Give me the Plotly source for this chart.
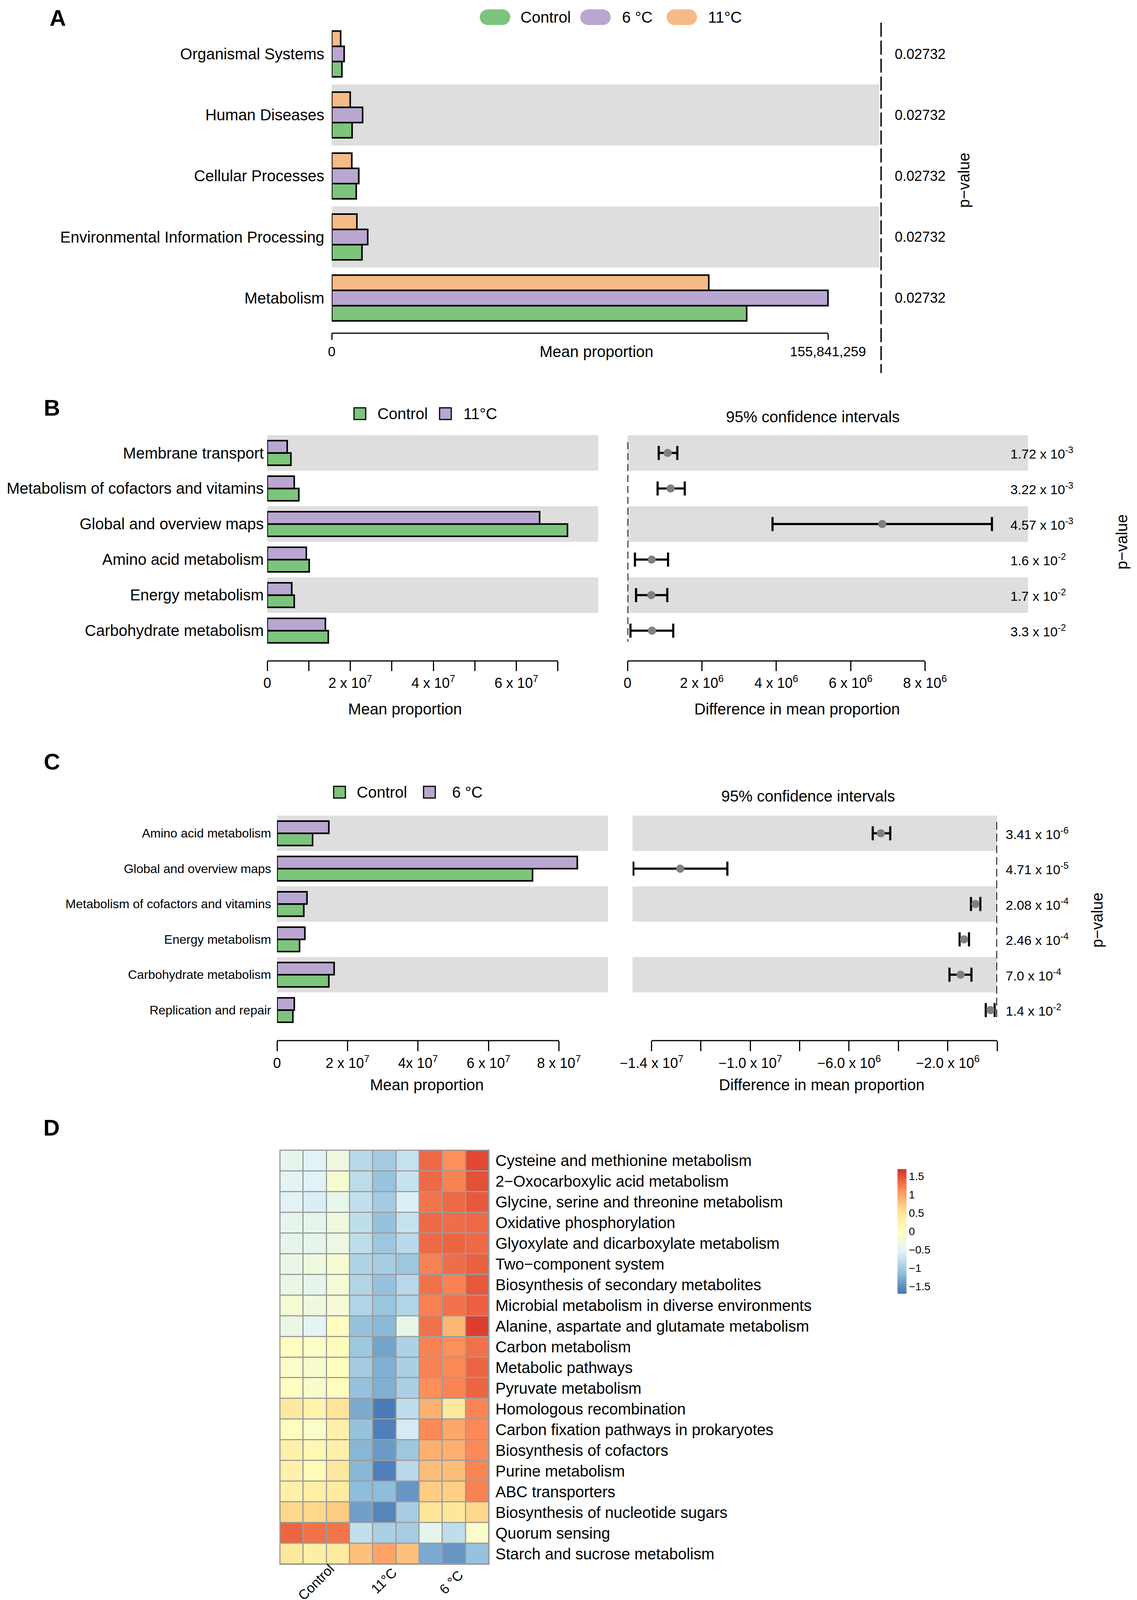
import plotly.graph_objects as go

W, H = 2910, 4142
OFF = 8  # page body margin compensation
FONT = "Liberation Sans, Arial, Helvetica, sans-serif"

GREEN = "#7DC47D"
PURPLE = "#B9A7D1"
ORANGE = "#F5BB86"
BAND = "#DEDEDE"
DOT = "#808080"

# ---------------- Panel A data ----------------
a_categories = ["Organismal Systems", "Human Diseases", "Cellular Processes",
                "Environmental Information Processing", "Metabolism"]
a_control = [3.2e6, 6.4e6, 7.7e6, 9.5e6, 130.3e6]
a_6c = [3.9e6, 9.7e6, 8.5e6, 11.3e6, 155841259]
a_11c = [2.8e6, 5.8e6, 6.3e6, 7.9e6, 118.4e6]
a_pvalues = ["0.02732", "0.02732", "0.02732", "0.02732", "0.02732"]
a_tickvals = [0, 155841259]
a_ticktext = ["0", "155,841,259"]
a_band_rows = [1, 3]

# ---------------- Panel B data ----------------
b_categories = ["Membrane transport", "Metabolism of cofactors and vitamins",
                "Global and overview maps", "Amino acid metabolism",
                "Energy metabolism", "Carbohydrate metabolism"]
b_control = [5.7e6, 7.6e6, 72.3e6, 10.1e6, 6.5e6, 14.7e6]
b_11c = [4.8e6, 6.5e6, 65.6e6, 9.4e6, 5.9e6, 14.0e6]
b_diff = [1.08e6, 1.16e6, 6.85e6, 0.65e6, 0.64e6, 0.66e6]
b_ci_low = [0.84e6, 0.81e6, 3.90e6, 0.20e6, 0.23e6, 0.08e6]
b_ci_high = [1.34e6, 1.54e6, 9.80e6, 1.09e6, 1.07e6, 1.23e6]
b_pvalues = ["1.72 x 10<sup>-3</sup>", "3.22 x 10<sup>-3</sup>", "4.57 x 10<sup>-3</sup>",
             "1.6 x 10<sup>-2</sup>", "1.7 x 10<sup>-2</sup>", "3.3 x 10<sup>-2</sup>"]
b_left_tickvals = [0, 1e7, 2e7, 3e7, 4e7, 5e7, 6e7, 7e7]
b_left_ticktext = ["0", "", "2 x 10<sup>7</sup>", "", "4 x 10<sup>7</sup>", "",
                   "6 x 10<sup>7</sup>", ""]
b_right_tickvals = [0, 2e6, 4e6, 6e6, 8e6]
b_right_ticktext = ["0", "2 x 10<sup>6</sup>", "4 x 10<sup>6</sup>",
                    "6 x 10<sup>6</sup>", "8 x 10<sup>6</sup>"]
b_band_rows = [0, 2, 4]

# ---------------- Panel C data ----------------
c_categories = ["Amino acid metabolism", "Global and overview maps",
                "Metabolism of cofactors and vitamins", "Energy metabolism",
                "Carbohydrate metabolism", "Replication and repair"]
c_control = [10.1e6, 72.5e6, 7.6e6, 6.4e6, 14.7e6, 4.5e6]
c_6c = [14.7e6, 85.2e6, 8.5e6, 7.9e6, 16.2e6, 4.9e6]
c_diff = [-4.71e6, -12.84e6, -0.88e6, -1.34e6, -1.48e6, -0.27e6]
c_ci_low = [-5.04e6, -14.74e6, -1.06e6, -1.52e6, -1.93e6, -0.46e6]
c_ci_high = [-4.33e6, -10.93e6, -0.68e6, -1.14e6, -1.04e6, -0.10e6]
c_pvalues = ["3.41 x 10<sup>-6</sup>", "4.71 x 10<sup>-5</sup>", "2.08 x 10<sup>-4</sup>",
             "2.46 x 10<sup>-4</sup>", "7.0 x 10<sup>-4</sup>", "1.4 x 10<sup>-2</sup>"]
c_left_tickvals = [0, 2e7, 4e7, 6e7, 8e7]
c_left_ticktext = ["0", "2 x 10<sup>7</sup>", "4x 10<sup>7</sup>",
                   "6 x 10<sup>7</sup>", "8 x 10<sup>7</sup>"]
c_right_tickvals = [-1.4e7, -1.2e7, -1.0e7, -8e6, -6e6, -4e6, -2e6, 0]
c_right_ticktext = ["\u22121.4 x 10<sup>7</sup>", "", "\u22121.0 x 10<sup>7</sup>", "",
                    "\u22126.0 x 10<sup>6</sup>", "", "\u22122.0 x 10<sup>6</sup>", ""]
c_band_rows = [0, 2, 4]

# ---------------- Panel D data ----------------
d_rows = ["Cysteine and methionine metabolism", "2\u2212Oxocarboxylic acid metabolism",
          "Glycine, serine and threonine metabolism", "Oxidative phosphorylation",
          "Glyoxylate and dicarboxylate metabolism", "Two\u2212component system",
          "Biosynthesis of secondary metabolites", "Microbial metabolism in diverse environments",
          "Alanine, aspartate and glutamate metabolism", "Carbon metabolism",
          "Metabolic pathways", "Pyruvate metabolism", "Homologous recombination",
          "Carbon fixation pathways in prokaryotes", "Biosynthesis of cofactors",
          "Purine metabolism", "ABC transporters", "Biosynthesis of nucleotide sugars",
          "Quorum sensing", "Starch and sucrose metabolism"]
d_samples = ["Control_1", "Control_2", "Control_3", "11C_1", "11C_2", "11C_3",
             "6C_1", "6C_2", "6C_3"]
d_groups = ["Control", "11\u00b0C", "6 \u00b0C"]
d_values = [
    [-0.45, -0.55, -0.32, -0.85, -1.00, -0.75, 1.35, 1.12, 1.55],
    [-0.52, -0.55, -0.15, -0.82, -1.08, -0.75, 1.35, 1.20, 1.50],
    [-0.55, -0.62, -0.42, -0.78, -1.00, -0.60, 1.28, 1.36, 1.45],
    [-0.45, -0.45, -0.30, -0.80, -1.10, -0.75, 1.35, 1.33, 1.35],
    [-0.45, -0.45, -0.35, -0.80, -1.05, -0.85, 1.35, 1.38, 1.35],
    [-0.38, -0.30, -0.18, -0.92, -0.97, -1.05, 1.20, 1.33, 1.40],
    [-0.38, -0.45, -0.20, -0.90, -1.10, -0.85, 1.30, 1.20, 1.45],
    [-0.20, -0.30, -0.22, -0.90, -1.07, -0.90, 1.20, 1.30, 1.40],
    [-0.38, -0.52, 0.02, -1.10, -1.18, -0.42, 1.30, 0.85, 1.62],
    [0.00, -0.08, 0.05, -1.05, -1.35, -0.93, 1.20, 1.12, 1.30],
    [-0.10, -0.15, 0.00, -1.00, -1.25, -0.95, 1.20, 1.15, 1.38],
    [-0.02, -0.12, 0.03, -1.10, -1.25, -0.95, 1.12, 1.18, 1.38],
    [0.40, 0.20, 0.50, -1.30, -1.65, -0.80, 0.90, 0.42, 1.18],
    [0.03, -0.10, 0.25, -1.10, -1.62, -0.65, 1.15, 0.95, 1.15],
    [0.25, 0.15, 0.27, -1.20, -1.42, -1.05, 0.90, 0.90, 1.15],
    [0.25, 0.08, 0.42, -1.20, -1.62, -0.85, 0.80, 0.80, 1.18],
    [0.28, 0.28, 0.35, -1.15, -1.15, -1.45, 0.70, 0.68, 1.20],
    [0.62, 0.62, 0.70, -1.38, -1.58, -0.98, 0.45, 0.43, 0.62],
    [1.38, 1.30, 1.28, -0.78, -0.95, -0.98, -0.45, -0.80, -0.10],
    [0.42, 0.30, 0.37, 0.78, 0.98, 0.78, -1.30, -1.45, -1.10],
]
d_colorbar_ticks = [-1.5, -1, -0.5, 0, 0.5, 1, 1.5]
d_colorbar_text = ["\u22121.5", "\u22121", "\u22120.5", "0", "0.5", "1", "1.5"]
d_colorscale = [[0, "#4575B4"], [1 / 6, "#91BFDB"], [2 / 6, "#E0F3F8"], [3 / 6, "#FFFFBF"],
                [4 / 6, "#FEE090"], [5 / 6, "#FC8D59"], [1, "#D73027"]]


def fx(p):
    return (p - OFF) / W


def fy(p):
    return 1 - (p - OFF) / H


fig = go.Figure()
shapes = []
annotations = []


def rev(cats):
    return list(reversed(cats))


def add_bands(rows, n, xref, yref):
    for r in rows:
        pos = n - 1 - r
        shapes.append(dict(type="rect", xref=xref, yref=yref, x0=0, x1=1,
                           y0=pos - 0.5, y1=pos + 0.5, fillcolor=BAND,
                           line=dict(width=0), layer="below"))


def hbar(x, y, color, width, offset, xa, ya):
    fig.add_trace(go.Bar(x=x, y=y, orientation="h", width=width, offset=offset,
                         marker=dict(color=color, line=dict(color="black", width=4)),
                         xaxis=xa, yaxis=ya, showlegend=False))


def axis_line(xref, yref, x0, x1):
    shapes.append(dict(type="line", xref=xref, yref=yref, x0=x0, x1=x1, y0=0, y1=0,
                       line=dict(color="black", width=3)))


def text(x, y, s, size, xanchor="center", yanchor="middle", xref="paper", yref="paper",
         angle=0, bold=False):
    if bold:
        s = "<b>" + s + "</b>"
    annotations.append(dict(x=x, y=y, xref=xref, yref=yref, text=s, showarrow=False,
                            xanchor=xanchor, yanchor=yanchor, textangle=angle,
                            font=dict(family=FONT, size=size, color="black")))


def ci_trace(diff, low, high, cats, xa, ya):
    fig.add_trace(go.Scatter(
        x=diff, y=cats, mode="markers", xaxis=xa, yaxis=ya, showlegend=False,
        marker=dict(color=DOT, size=21),
        error_x=dict(type="data", symmetric=False,
                     array=[h - d for h, d in zip(high, diff)],
                     arrayminus=[d - l for d, l in zip(diff, low)],
                     color="black", thickness=5.5, width=18)))


# ---------------- Panel A ----------------
nA = len(a_categories)
hbar(a_control, a_categories, GREEN, 0.25, -0.375, "x", "y")
hbar(a_6c, a_categories, PURPLE, 0.25, -0.125, "x", "y")
hbar(a_11c, a_categories, ORANGE, 0.25, 0.125, "x", "y")
add_bands(a_band_rows, nA, "x domain", "y")
axis_line("x", "y domain", 0, a_tickvals[-1])
shapes.append(dict(type="line", xref="paper", yref="paper", x0=fx(2255), x1=fx(2255),
                   y0=fy(58), y1=fy(955), line=dict(color="black", width=3.5, dash="36px,10px")))
for cat, p in zip(a_categories, a_pvalues):
    text(fx(2288), cat, p, 36, xanchor="left", yref="y")
text(fx(2467), fy(462), "p\u2212value", 40, angle=-90)
text(fx(1526), fy(900), "Mean proportion", 40)
text(fx(148), fy(46), "A", 58, bold=True)

# legend A (pills)
pill = ("M -19,-20 L 19,-20 C 30,-20 39,-11 39,0 C 39,11 30,20 19,20 L -19,20 "
        "C -30,20 -39,11 -39,0 C -39,-11 -30,-20 -19,-20 Z")
for cx, col, lbl, tx in [(1267, GREEN, "Control", 1330), (1524, PURPLE, "6 \u00b0C", 1590),
                         (1745, ORANGE, "11\u00b0C", 1810)]:
    shapes.append(dict(type="path", xref="paper", yref="paper", xsizemode="pixel",
                       ysizemode="pixel", xanchor=fx(cx), yanchor=fy(44), path=pill,
                       fillcolor=col, line=dict(width=0)))
    text(fx(tx), fy(44), lbl, 40, xanchor="left")

# ---------------- Panel B ----------------
nB = len(b_categories)
hbar(b_control, b_categories, GREEN, 0.345, -0.345, "x2", "y2")
hbar(b_11c, b_categories, PURPLE, 0.345, 0.0, "x2", "y2")
add_bands(b_band_rows, nB, "x2 domain", "y2")
add_bands(b_band_rows, nB, "x3 domain", "y3")
axis_line("x2", "y2 domain", 0, b_left_tickvals[-1])
axis_line("x3", "y3 domain", 0, b_right_tickvals[-1])
ci_trace(b_diff, b_ci_low, b_ci_high, b_categories, "x3", "y3")
shapes.append(dict(type="line", xref="x3", yref="paper", x0=0, x1=0, y0=fy(1132), y1=fy(1643),
                   line=dict(color="black", width=4, dash="18px,10px")))
for cat, p in zip(b_categories, b_pvalues):
    text(fx(2584), cat, p, 34, xanchor="left", yref="y3")
text(fx(2871), fy(1388), "p\u2212value", 40, angle=-90)
text(fx(2080), fy(1067), "95% confidence intervals", 40)
text(fx(1036), fy(1815), "Mean proportion", 40)
text(fx(2040), fy(1815), "Difference in mean proportion", 40)
text(fx(133), fy(1043), "B", 58, bold=True)
for cx, col, lbl, tx in [(921, GREEN, "Control", 964), (1140, PURPLE, "11\u00b0C", 1184)]:
    shapes.append(dict(type="rect", xref="paper", yref="paper", x0=fx(cx - 15), x1=fx(cx + 15),
                       y0=fy(1059 + 15), y1=fy(1059 - 15), fillcolor=col,
                       line=dict(color="black", width=3)))
    text(fx(tx), fy(1059), lbl, 40, xanchor="left")

# ---------------- Panel C ----------------
nC = len(c_categories)
hbar(c_control, c_categories, GREEN, 0.345, -0.345, "x4", "y4")
hbar(c_6c, c_categories, PURPLE, 0.345, 0.0, "x4", "y4")
add_bands(c_band_rows, nC, "x4 domain", "y4")
add_bands(c_band_rows, nC, "x5 domain", "y5")
axis_line("x4", "y4 domain", 0, c_left_tickvals[-1])
axis_line("x5", "y5 domain", c_right_tickvals[0], c_right_tickvals[-1])
ci_trace(c_diff, c_ci_low, c_ci_high, c_categories, "x5", "y5")
shapes.append(dict(type="line", xref="x5", yref="paper", x0=0, x1=0, y0=fy(2104), y1=fy(2615),
                   line=dict(color="black", width=4, dash="20px,10px")))
for cat, p in zip(c_categories, c_pvalues):
    text(fx(2572), cat, p, 34, xanchor="left", yref="y5")
text(fx(2808), fy(2356), "p\u2212value", 40, angle=-90)
text(fx(2068), fy(2038), "95% confidence intervals", 40)
text(fx(1092), fy(2777), "Mean proportion", 40)
text(fx(2103), fy(2777), "Difference in mean proportion", 40)
text(fx(133), fy(1949), "C", 58, bold=True)
for cx, col, lbl, tx in [(869, GREEN, "Control", 911), (1099, PURPLE, "6 \u00b0C", 1155)]:
    shapes.append(dict(type="rect", xref="paper", yref="paper", x0=fx(cx - 15), x1=fx(cx + 15),
                       y0=fy(2028 + 15), y1=fy(2028 - 15), fillcolor=col,
                       line=dict(color="black", width=3)))
    text(fx(tx), fy(2028), lbl, 40, xanchor="left")

# ---------------- Panel D ----------------
fig.add_trace(go.Heatmap(
    z=d_values, x=d_samples, y=d_rows, colorscale=d_colorscale, zmin=-1.7, zmax=1.7,
    xgap=3, ygap=3, xaxis="x6", yaxis="y6",
    colorbar=dict(x=fx(2287), xanchor="left", y=fy(3152), yanchor="middle",
                  thickness=23, thicknessmode="pixels", len=339, lenmode="pixels",
                  outlinewidth=0, ticks="", tickvals=d_colorbar_ticks,
                  ticktext=d_colorbar_text,
                  tickfont=dict(family=FONT, size=28, color="black"))))
shapes.append(dict(type="rect", xref="paper", yref="paper", x0=fx(715), x1=fx(1253),
                   y0=fy(4006), y1=fy(2943), fillcolor="#9C9C9C", line=dict(width=0),
                   layer="below"))
for (gx, gy), g in zip([(808, 4050), (982, 4046), (1154, 4050)], d_groups):
    text(fx(gx), fy(gy), g, 35, angle=-45)
text(fx(132), fy(2886), "D", 58, bold=True)

tick_font = lambda s: dict(family=FONT, size=s, color="black")
base_x = dict(showgrid=False, zeroline=False, showline=False, ticks="outside",
              tickwidth=3, tickcolor="black")
base_cat = dict(showgrid=False, zeroline=False, showline=False, ticks="", type="category")

fig.update_layout(
    width=W, height=H, margin=dict(l=0, r=0, t=0, b=0), autosize=False,
    paper_bgcolor="white", plot_bgcolor="white", template="none",
    barmode="overlay", showlegend=False,
    font=dict(family=FONT, color="black"),
    # A
    xaxis=dict(base_x, domain=[fx(849), fx(2250)], range=[0, 171.9e6], anchor="y",
               tickvals=a_tickvals, ticktext=a_ticktext, ticklen=16, tickfont=tick_font(35)),
    yaxis=dict(base_cat, domain=[fy(853), fy(60)], anchor="x",
               categoryorder="array", categoryarray=rev(a_categories),
               range=[-0.577, nA - 0.5], tickfont=tick_font(40), ticklabelstandoff=18),
    # B left
    xaxis2=dict(base_x, domain=[fx(684), fx(1531)], range=[0, 7.97e7], anchor="y2",
                tickvals=b_left_tickvals, ticktext=b_left_ticktext, ticklen=25,
                tickfont=tick_font(36)),
    yaxis2=dict(base_cat, domain=[fy(1692), fy(1114)], anchor="x2",
                categoryorder="array", categoryarray=rev(b_categories),
                range=[-0.852, nB - 0.5], tickfont=tick_font(40), ticklabelstandoff=8),
    # B right
    xaxis3=dict(base_x, domain=[fx(1606), fx(2631)], range=[0, 10.77e6], anchor="y3",
                tickvals=b_right_tickvals, ticktext=b_right_ticktext, ticklen=25,
                tickfont=tick_font(36)),
    yaxis3=dict(base_cat, domain=[fy(1692), fy(1114)], anchor="x3",
                categoryorder="array", categoryarray=rev(b_categories),
                range=[-0.852, nB - 0.5], showticklabels=False),
    # C left
    xaxis4=dict(base_x, domain=[fx(709), fx(1556)], range=[0, 9.39e7], anchor="y4",
                tickvals=c_left_tickvals, ticktext=c_left_ticktext, ticklen=26,
                tickfont=tick_font(36)),
    yaxis4=dict(base_cat, domain=[fy(2664), fy(2088)], anchor="x4",
                categoryorder="array", categoryarray=rev(c_categories),
                range=[-0.865, nC - 0.5], tickfont=tick_font(32), ticklabelstandoff=14),
    # C right
    xaxis5=dict(base_x, domain=[fx(1619), fx(2552)], range=[-14.77e6, 0], anchor="y5",
                tickvals=c_right_tickvals, ticktext=c_right_ticktext, ticklen=26,
                tickfont=tick_font(36)),
    yaxis5=dict(base_cat, domain=[fy(2664), fy(2088)], anchor="x5",
                categoryorder="array", categoryarray=rev(c_categories),
                range=[-0.865, nC - 0.5], showticklabels=False),
    # D
    xaxis6=dict(base_cat, domain=[fx(717), fx(1251)], anchor="y6", showticklabels=False),
    yaxis6=dict(base_cat, domain=[fy(4004), fy(2945)], anchor="x6", side="right",
                autorange="reversed", tickfont=tick_font(40), ticklabelstandoff=16),
    shapes=shapes, annotations=annotations,
)

fig.write_html("out.html")
